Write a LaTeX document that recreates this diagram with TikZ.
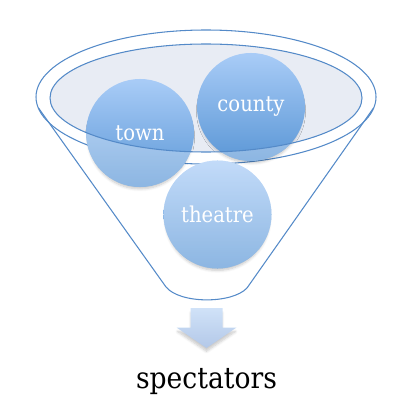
\documentclass[tikz,border=0pt]{standalone}
\usepackage{fontspec}
\setmainfont{DejaVu Serif}[FakeStretch=0.9]
\usetikzlibrary{shadows.blur}
\definecolor{rimblue}{HTML}{548AC8}
\definecolor{bowlfill}{HTML}{E8ECF4}
\definecolor{balltop}{HTML}{A9CCF7}
\definecolor{ballbottom}{HTML}{5B97D6}
\definecolor{arrowtop}{HTML}{D0E2F8}
\definecolor{arrowbottom}{HTML}{B3C8E8}
\begin{document}
\begin{tikzpicture}[x=0.025cm,y=-0.025cm,
  rim/.style={draw=rimblue, line width=0.75pt},
  soft/.style={blur shadow={shadow xshift=0pt, shadow yshift=-3pt, shadow scale=0.96, shadow blur radius=2pt, shadow blur steps=6, shadow opacity=22}},
  ball/.style={circle, minimum size=2.7cm, inner sep=0pt, top color=balltop, bottom color=ballbottom, text=white, font=\fontsize{15.5}{18}\selectfont, soft}]
\useasboundingbox (0,0) rectangle (411,413);
% funnel
\draw[rim] (206,97) ellipse [x radius=170, y radius=67];
\draw[rim] (38.5,108) -- (166,287) .. controls (180,304) and (232,304) .. (247,288) -- (373.5,108);
\fill[bowlfill] (206,98) ellipse [x radius=156, y radius=54];
% balls
\node[ball] (town) at (140,133) {town};
\node[ball] (county) at (251,107) {county};
\node[ball] (theatre) at (217.5,214.5) {theatre};
\foreach \b in {town,county,theatre}{
  \begin{scope}
    \clip (\b.center) circle [radius=54];
    \fill[white, opacity=0.3, even odd rule] (0,0) rectangle (411,413) (206,98) ellipse [x radius=156, y radius=54];
  \end{scope}
}
\draw[rim] (206,98) ellipse [x radius=156, y radius=54];
% output
\shade[top color=arrowtop, bottom color=arrowbottom, soft] (190.5,308) -- (222.5,308) -- (222.5,327.5) -- (236.5,327.5) -- (206.5,348) -- (176.5,327.5) -- (190.5,327.5) -- cycle;
\node[anchor=base, font=\fontsize{21}{26}\selectfont] (spectators) at (206.5,388) {spectators};
\end{tikzpicture}
\end{document}
